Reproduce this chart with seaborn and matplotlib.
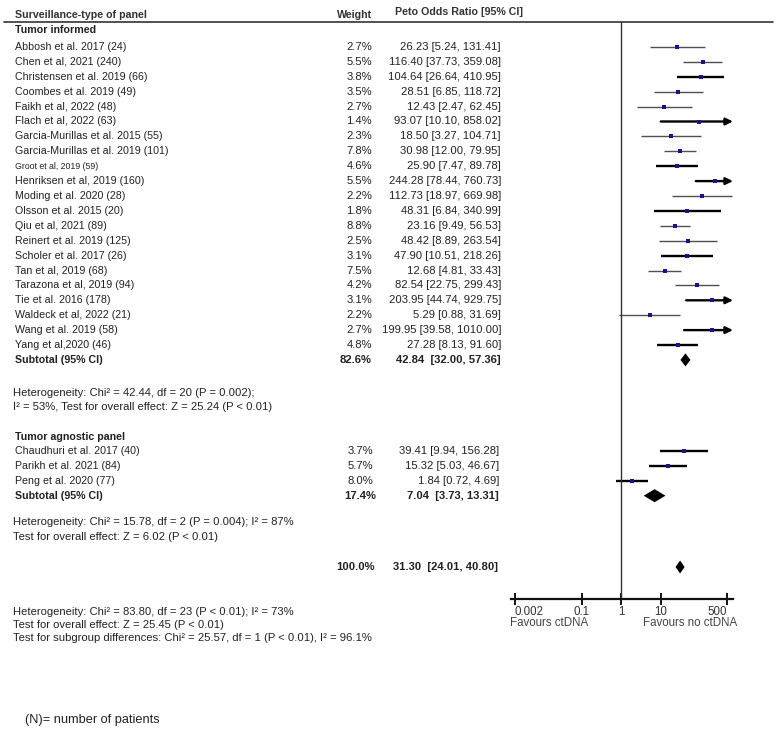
import matplotlib
matplotlib.use("Agg")
import matplotlib.pyplot as plt
import numpy as np
import pandas as pd
import seaborn as sns

# --- data ---
informed_names = ["Abbosh et al. 2017", "Chen et al, 2021", "Christensen et al. 2019", "Coombes et al. 2019",
                  "Faikh et al, 2022", "Flach et al, 2022", "Garcia-Murillas et al. 2015",
                  "Garcia-Murillas et al. 2019", "Groot et al, 2019", "Henriksen et al, 2019",
                  "Moding et al. 2020", "Olsson et al. 2015", "Qiu et al, 2021", "Reinert et al. 2019",
                  "Scholer et al. 2017", "Tan et al, 2019", "Tarazona et al, 2019", "Tie et al. 2016",
                  "Waldeck et al, 2022", "Wang et al. 2019", "Yang et al,2020"]
informed_n = [24, 240, 66, 49, 48, 63, 55, 101, 59, 160, 28, 20, 89, 125, 26, 68, 94, 178, 21, 58, 46]
informed_w = [2.7, 5.5, 3.8, 3.5, 2.7, 1.4, 2.3, 7.8, 4.6, 5.5, 2.2, 1.8, 8.8, 2.5, 3.1, 7.5, 4.2, 3.1, 2.2, 2.7, 4.8]
informed_or = [26.23, 116.40, 104.64, 28.51, 12.43, 93.07, 18.50, 30.98, 25.90, 244.28, 112.73, 48.31,
               23.16, 48.42, 47.90, 12.68, 82.54, 203.95, 5.29, 199.95, 27.28]
informed_lo = [5.24, 37.73, 26.64, 6.85, 2.47, 10.10, 3.27, 12.00, 7.47, 78.44, 18.97, 6.84,
               9.49, 8.89, 10.51, 4.81, 22.75, 44.74, 0.88, 39.58, 8.13]
informed_hi = [131.41, 359.08, 410.95, 118.72, 62.45, 858.02, 104.71, 79.95, 89.78, 760.73, 669.98, 340.99,
               56.53, 263.54, 218.26, 33.43, 299.43, 929.75, 31.69, 1010.00, 91.60]
informed_sub = (82.6, 42.84, 32.00, 57.36)

agnostic_names = ["Chaudhuri et al. 2017", "Parikh et al. 2021", "Peng et al. 2020"]
agnostic_n = [40, 84, 77]
agnostic_w = [3.7, 5.7, 8.0]
agnostic_or = [39.41, 15.32, 1.84]
agnostic_lo = [9.94, 5.03, 0.72]
agnostic_hi = [156.28, 46.67, 4.69]
agnostic_sub = (17.4, 7.04, 3.73, 13.31)

overall = (100.0, 31.30, 24.01, 40.80)

tick_vals = [0.002, 0.1, 1, 10, 500]
tick_labels = ["0.002", "0.1", "1", "10", "500"]

het_informed = ["Heterogeneity: Chi\u00b2 = 42.44, df = 20 (P = 0.002);",
                "I\u00b2 = 53%, Test for overall effect: Z = 25.24 (P < 0.01)"]
het_agnostic = ["Heterogeneity: Chi\u00b2 = 15.78, df = 2 (P = 0.004); I\u00b2 = 87%",
                "Test for overall effect: Z = 6.02 (P < 0.01)"]
het_overall = ["Heterogeneity: Chi\u00b2 = 83.80, df = 23 (P < 0.01); I\u00b2 = 73%",
               "Test for overall effect: Z = 25.45 (P < 0.01)",
               "Test for subgroup differences: Chi\u00b2 = 25.57, df = 1 (P < 0.01), I\u00b2 = 96.1%"]

# styling: which CI lines are drawn heavy in the original
heavy = {"Christensen et al. 2019", "Flach et al, 2022", "Groot et al, 2019", "Henriksen et al, 2019",
         "Olsson et al. 2015", "Scholer et al. 2017", "Tie et al. 2016", "Yang et al,2020",
         "Peng et al. 2020", "Chaudhuri et al. 2017", "Wang et al. 2019", "Parikh et al. 2021"}

sns.set_theme(style="white")
plt.rcParams["font.family"] = ["Liberation Sans", "DejaVu Sans"]

W, H = 780, 736
fig = plt.figure(figsize=(W / 100, H / 100), dpi=100)
bg = fig.add_axes([0, 0, 1, 1])
bg.set_xlim(0, W)
bg.set_ylim(H, 0)
bg.axis("off")

# forest axes, y in pixel units shared with the background
x_left, x_right, y_top, y_bot = 511, 733, 22, 599
ax = fig.add_axes([x_left / W, (H - y_bot) / H, (x_right - x_left) / W, (y_bot - y_top) / H])
ax.set_facecolor("none")
ax.set_xscale("log")
xmin, xmax = 10 ** -2.8, 10 ** 2.84
ax.set_xlim(xmin, xmax)
ax.set_ylim(y_bot, y_top)

row_h = 14.9
txt = "#222222"
fs_name = 7.7
fs = 8.1

# row layout
df_inf = pd.DataFrame({"name": informed_names, "n": informed_n, "w": informed_w,
                       "or": informed_or, "lo": informed_lo, "hi": informed_hi})
df_inf["y"] = 47 + np.arange(len(df_inf)) * row_h
y_sub1 = 47 + len(df_inf) * row_h
df_ag = pd.DataFrame({"name": agnostic_names, "n": agnostic_n, "w": agnostic_w,
                      "or": agnostic_or, "lo": agnostic_lo, "hi": agnostic_hi})
df_ag["y"] = 451 + np.arange(len(df_ag)) * row_h
y_sub2 = 451 + len(df_ag) * row_h
y_total = 567

# header
bg.text(15, 15, "Surveillance-type of panel", fontsize=fs_name, fontweight="bold", color="#333333", va="center")
bg.text(372, 15, "Weight", fontsize=fs_name, fontweight="bold", color="#333333", va="center", ha="right")
bg.text(395, 12, "Peto Odds Ratio [95% CI]", fontsize=fs_name, fontweight="bold", color="#333333", va="center")
bg.plot([4, 773], [22, 22], color="#333333", lw=1.2)

bg.text(15, 30, "Tumor informed", fontsize=fs_name, fontweight="bold", color=txt, va="center")
bg.text(15, 437, "Tumor agnostic panel", fontsize=fs_name, fontweight="bold", color=txt, va="center")


def study_rows(df, w_right, ci_right):
    for _, r in df.iterrows():
        size = 6.3 if r["name"] == "Groot et al, 2019" else fs_name
        bg.text(15, r["y"], f"{r['name']} ({r['n']})", fontsize=size, color=txt, va="center")
        bg.text(w_right, r["y"], f"{r['w']:.1f}%", fontsize=fs, color=txt, va="center", ha="right")
        bg.text(ci_right, r["y"], f"{r['or']:.2f} [{r['lo']:.2f}, {r['hi']:.2f}]", fontsize=fs,
                color=txt, va="center", ha="right")
        lw = 1.7 if r["name"] in heavy else 1.0
        col = "black" if r["name"] in heavy else "#505050"
        if r["hi"] > xmax:
            ax.annotate("", xy=(xmax, r["y"]), xytext=(r["lo"], r["y"]), annotation_clip=False,
                        arrowprops=dict(arrowstyle="-|>,head_length=0.35,head_width=0.17",
                                        color="black", lw=lw, shrinkA=0, shrinkB=0))
        else:
            ax.hlines(r["y"], max(r["lo"], xmin), r["hi"], color=col, lw=lw, clip_on=False)
    sns.scatterplot(data=df, x="or", y="y", marker="s", s=8, color="#16168a", linewidth=0, ax=ax, zorder=5)


def summary_row(y, vals, w_right, ci_right, label=None):
    w, est, lo, hi = vals
    if label:
        bg.text(15, y, label, fontsize=fs_name, fontweight="bold", color=txt, va="center")
    bg.text(w_right, y, f"{w:.1f}%", fontsize=fs, fontweight="bold", color=txt, va="center", ha="right")
    bg.text(ci_right, y, f"{est:.2f}  [{lo:.2f}, {hi:.2f}]", fontsize=fs, fontweight="bold",
            color=txt, va="center", ha="right")
    ax.fill([lo, est, hi, est], [y, y - 6.5, y, y + 6.5], color="black", lw=0, zorder=5)


study_rows(df_inf, 372, 501)
summary_row(y_sub1, informed_sub, 372, 501, "Subtotal (95% CI)")
study_rows(df_ag, 373, 499)
summary_row(y_sub2, agnostic_sub, 376, 499, "Subtotal (95% CI)")
summary_row(y_total, overall, 375, 498)

for i, line in enumerate(het_informed):
    bg.text(13, 393 + i * 14.5, line, fontsize=fs, color=txt, va="center")
for i, line in enumerate(het_agnostic):
    bg.text(13, 522 + i * 15, line, fontsize=fs, color=txt, va="center")
for i, line in enumerate(het_overall):
    bg.text(13, 612 + i * 13, line, fontsize=fs, color=txt, va="center")

bg.text(25, 720, "(N)= number of patients", fontsize=9.2, color=txt, va="center")

# axes styling
ax.axvline(1, color="#333333", lw=1.0)
for s in ["top", "right", "left"]:
    ax.spines[s].set_visible(False)
ax.spines["bottom"].set_color("#111111")
ax.spines["bottom"].set_linewidth(1.6)
ax.set_yticks([])
ax.set_xticks(tick_vals)
ax.set_xticklabels(tick_labels)
ax.minorticks_off()
ax.tick_params(axis="x", which="major", direction="inout", length=9, width=1.4, color="#111111",
               labelsize=8.3, labelcolor="#333333", pad=0.5, bottom=True)
labs = ax.get_xticklabels()
labs[0].set_ha("left")
labs[-1].set_ha("right")
ax.set_xlabel("")
ax.set_ylabel("")

bg.text(510, 623, "Favours ctDNA", fontsize=8.3, color="#444444", va="center")
bg.text(737, 623, "Favours no ctDNA", fontsize=8.3, color="#444444", va="center", ha="right")

fig.savefig("out.png", dpi=100)
